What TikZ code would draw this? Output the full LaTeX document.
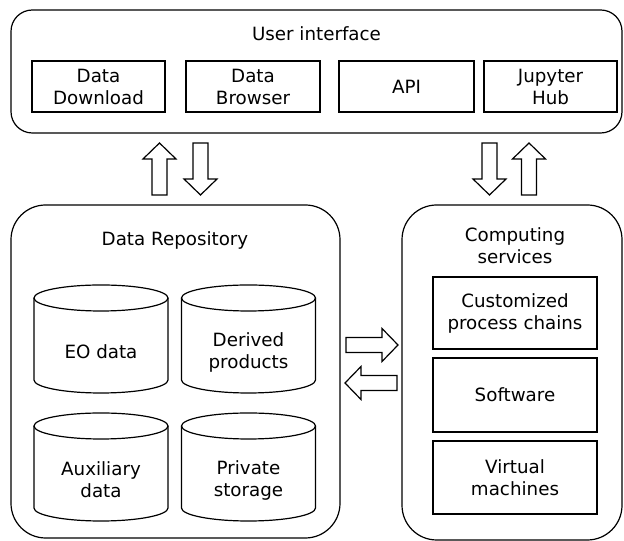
\documentclass[tikz,border=0pt]{standalone}
\usepackage{fontspec}
\setmainfont{DejaVu Sans}
\usetikzlibrary{positioning}

\tikzset{
	box/.style = {draw, line width=0.9pt, align=center, inner sep=0pt},
	group/.style = {draw, line width=0.9pt},
	blockarrow/.pic = {
		\draw [line width=0.9pt] (-26,-7.5) -- (10,-7.5) -- (10,-16.5) -- (26,0) -- (10,16.5) -- (10,7.5) -- (-26,7.5) -- cycle;
	}
}

% cylinder for the storage parts: name, centre x, top y, text
\newcommand{\dbstore}[4]{
	\draw [line width=0.9pt] (#2,#3-13) ellipse [x radius=67, y radius=13];
	\draw [line width=0.9pt] (#2-67,#3-13) -- (#2-67,#3-95)
		arc [start angle=180, end angle=360, x radius=67, y radius=13] -- (#2+67,#3-13);
	\node [align=center] (#1) at (#2,#3-67) {#4};
}

\begin{document}
\begin{tikzpicture}[x=0.75pt, y=0.75pt, font=\fontsize{13.7}{16.5}\selectfont]
	\useasboundingbox (0,0) rectangle (624,541);

	% user interface
	\node [group, rounded corners=16pt, minimum width=611*0.75pt, minimum height=123*0.75pt] (ui) at (316.5,469.5) {};
	\node (uititle) at (316.5,507) {User interface};
	\node [box, minimum width=133*0.75pt, minimum height=51*0.75pt] (download) at (98.5,454.5) {Data\\Download};
	\node [box, minimum width=134*0.75pt, minimum height=51*0.75pt] (browser) at (253,454.5) {Data\\Browser};
	\node [box, minimum width=135*0.75pt, minimum height=51*0.75pt] (api) at (406.5,454.5) {API};
	\node [box, minimum width=133*0.75pt, minimum height=51*0.75pt] (jupyter) at (550.5,454.5) {Jupyter\\Hub};

	% data repository
	\node [group, rounded corners=26pt, minimum width=329*0.75pt, minimum height=333*0.75pt] (repo) at (175.5,169.5) {};
	\node (repotitle) at (175,301) {Data Repository};
	\dbstore{eo}{101}{256}{EO data}
	\dbstore{derived}{248.5}{256}{Derived\\products}
	\dbstore{aux}{101}{128}{Auxiliary\\data}
	\dbstore{private}{248.5}{128}{Private\\storage}

	% computing services
	\node [group, rounded corners=26pt, minimum width=220*0.75pt, minimum height=335*0.75pt] (comp) at (512,168.5) {};
	\node [align=center] (comptitle) at (515,295) {Computing\\services};
	\node [box, minimum width=164*0.75pt, minimum height=72*0.75pt] (chains) at (515,228) {Customized\\process chains};
	\node [box, minimum width=164*0.75pt, minimum height=74*0.75pt] (software) at (515,146) {Software};
	\node [box, minimum width=164*0.75pt, minimum height=73*0.75pt] (vm) at (515,63.5) {Virtual\\machines};

	% exchanges
	\pic [rotate=90] (repoup) at (159.5,372) {blockarrow};
	\pic [rotate=-90] (repodown) at (200.5,372) {blockarrow};
	\pic [rotate=-90] (compdown) at (489.5,372) {blockarrow};
	\pic [rotate=90] (compup) at (529,372) {blockarrow};
	\pic (tocomp) at (372,196) {blockarrow};
	\pic [rotate=180] (torepo) at (371,158) {blockarrow};
\end{tikzpicture}
\end{document}
